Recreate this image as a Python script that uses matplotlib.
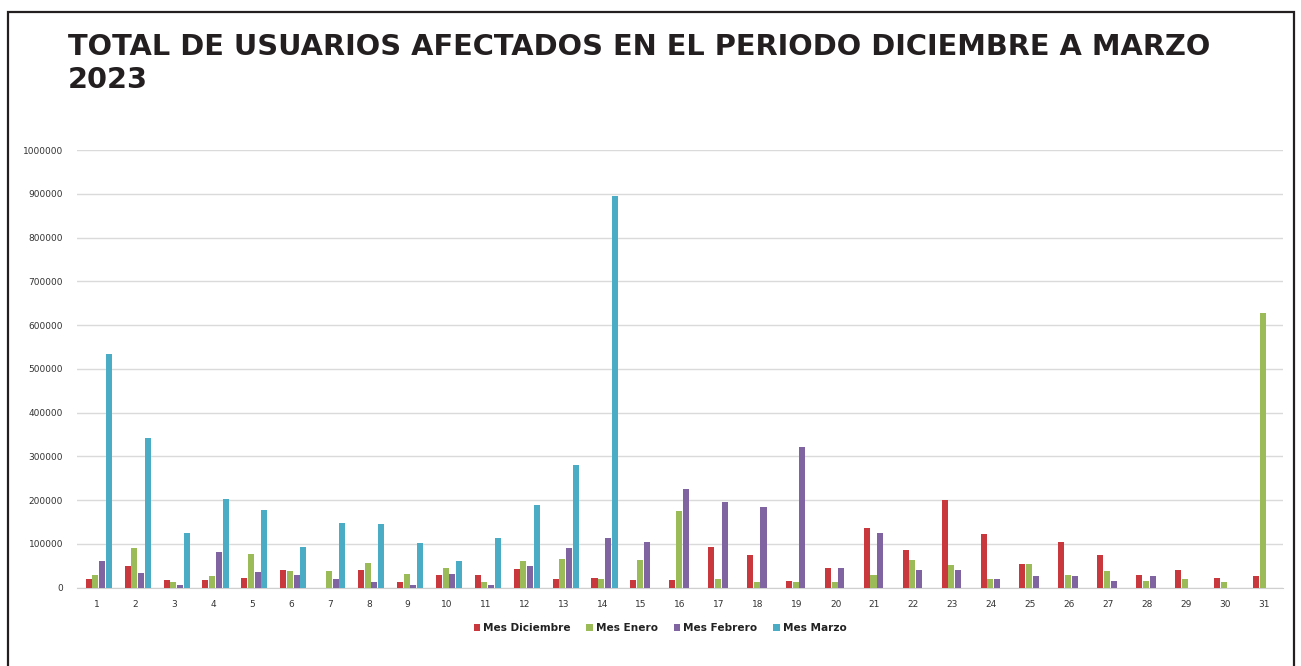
import numpy as np
import matplotlib
matplotlib.use('Agg')
import matplotlib.pyplot as plt
from matplotlib.patches import Rectangle

# Usuarios afectados por dia, diciembre a marzo
dias = [str(d) for d in range(1, 32)]
mes_diciembre = [20000, 49000, 18000, 18000, 23000, 40000, 0, 40000, 12000, 29000,
                 29000, 43000, 21000, 23000, 17000, 17000, 94000, 75000, 15000, 46000,
                 136000, 86000, 200000, 123000, 55000, 105000, 75000, 30000, 40000, 23000,
                 27000]
mes_enero = [30000, 91000, 13000, 27000, 77000, 38000, 38000, 57000, 32000, 46000,
             12000, 60000, 66000, 21000, 63000, 176000, 21000, 12000, 12000, 12000,
             30000, 63000, 52000, 21000, 55000, 30000, 38000, 15000, 21000, 12000,
             628000]
mes_febrero = [60000, 33000, 7000, 82000, 35000, 30000, 21000, 12000, 7000, 32000,
               7000, 49000, 91000, 113000, 105000, 226000, 196000, 184000, 322000, 46000,
               125000, 40000, 40000, 21000, 27000, 27000, 15000, 27000, 0, 0,
               0]
mes_marzo = [535000, 341000, 125000, 203000, 178000, 94000, 147000, 145000, 102000, 60000,
             113000, 190000, 280000, 895000, 0, 0, 0, 0, 0, 0,
             0, 0, 0, 0, 0, 0, 0, 0, 0, 0,
             0]

series = [
	('Mes Diciembre', mes_diciembre, '#C9383C'),
	('Mes Enero', mes_enero, '#9BBB59'),
	('Mes Febrero', mes_febrero, '#8064A2'),
	('Mes Marzo', mes_marzo, '#4BACC6'),
]

W, H = 1301, 666
fig = plt.figure(figsize=(W / 100, H / 100), dpi=100)
ax = fig.add_axes([77 / W, 1 - 587.7 / H, (1283 - 77) / W, (587.7 - 150) / H])

x = np.arange(len(dias))
step = 0.172
width = 0.155
for i, (name, vals, color) in enumerate(series):
	ax.bar(x + (i - 1.5) * step + 0.06, vals, width=width, color=color, label=name, zorder=3)

ax.set_xlim(-0.5, len(dias) - 0.5)
ax.set_ylim(0, 1000000)
ax.set_yticks(np.arange(0, 1000001, 100000))
ax.set_yticklabels([str(v) for v in range(0, 1000001, 100000)])
ax.set_xticks(x)
ax.set_xticklabels(dias)
ax.tick_params(length=0, labelsize=6.5, labelcolor='#333333')
ax.tick_params(axis='y', pad=10)
ax.tick_params(axis='x', pad=9)
ax.grid(axis='y', color='#DADADA', linewidth=1.0, zorder=0)
for s in ['top', 'right', 'left']:
	ax.spines[s].set_visible(False)
ax.spines['bottom'].set_color('#CFCFCF')

leg = fig.legend(loc='center', bbox_to_anchor=(660 / W, 1 - 628 / H), ncol=4, frameon=False,
                 fontsize=7.6, handlelength=0.6, handleheight=0.6, handletextpad=0.3, columnspacing=1.5)
plt.setp(leg.get_texts(), fontweight='bold', color='#222222')

fig.text(68 / W, 1 - 33 / H, 'TOTAL DE USUARIOS AFECTADOS EN EL PERIODO DICIEMBRE A MARZO\n2023',
         ha='left', va='top', fontsize=20.8, fontweight='bold', color='#231F20', linespacing=1.25)

# Marco exterior
fig.patches.append(Rectangle((8 / W, -0.01), (1294 - 8) / W, 1 - 12 / H + 0.01, transform=fig.transFigure,
                             fill=False, edgecolor='#231F20', linewidth=1.6))

fig.savefig('out.png', dpi=100)
